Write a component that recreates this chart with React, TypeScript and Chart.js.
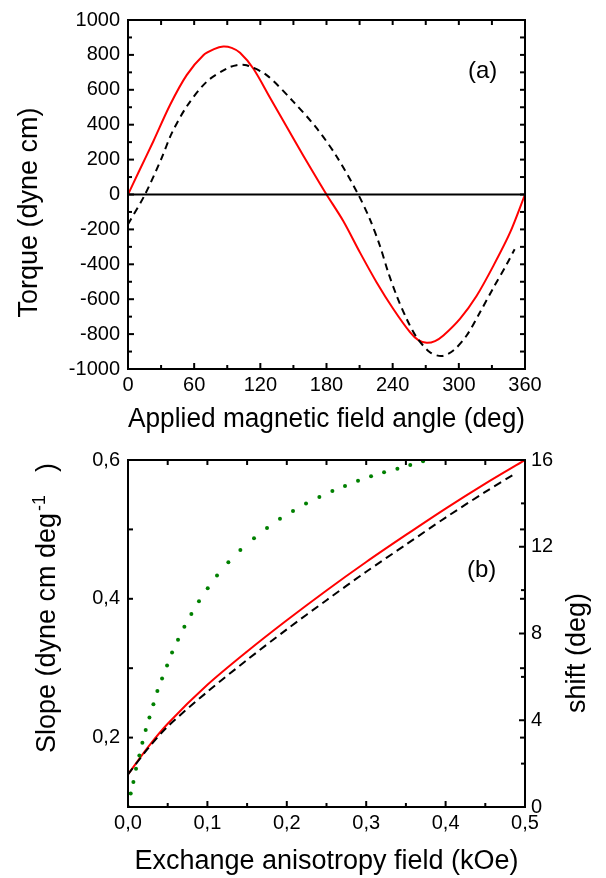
import React, { useEffect, useRef } from "react";
import { Chart, registerables } from "chart.js";

Chart.register(...registerables);
Chart.defaults.font.family = "'Liberation Sans', Arial, sans-serif";
Chart.defaults.color = "#000";

// ---------- Panel (a) data ----------
const redAngle = [0, 10, 22.9, 38.1, 53.2, 68.3, 78, 86.4, 94, 101.6, 113.6, 128.8, 143.9, 159, 174.1, 180, 195.2, 210.4, 225.5, 240.6, 255.7, 263.3, 270.9, 278.4, 286, 301, 316.2, 331.3, 346.4, 360];
const redTorque = [0, 133, 304, 513, 684, 798, 833, 848, 840, 812, 722, 555, 388, 222, 62, 0, -152, -333, -504, -656, -789, -835, -850, -840, -808, -713, -580, -409, -219, 0];
const dashAngle = [0, 15.4, 30.5, 39.6, 53.2, 71.3, 89.5, 98.5, 107.6, 125.7, 149.9, 171.1, 189.2, 208.8, 219.4, 228.5, 236, 243.6, 252.7, 261.7, 273.8, 284.4, 295, 307.1, 319.2, 331.3, 343.4, 350.6];
const dashTorque = [-170, 0, 209, 350, 504, 646, 722, 741, 741, 684, 532, 380, 218, 0, -143, -295, -447, -580, -713, -818, -904, -926, -894, -808, -675, -535, -400, -314];
const zeroAngle = [0, 360];
const zeroTorque = [0, 0];
const xTicksA = [0, 60, 120, 180, 240, 300, 360];
const xMinorA = [30, 90, 150, 210, 270, 330];
const yTicksA = [-1000, -800, -600, -400, -200, 0, 200, 400, 600, 800, 1000];
const yMinorA = [-900, -700, -500, -300, -100, 100, 300, 500, 700, 900];

// ---------- Panel (b) data ----------
const fieldRed = [0, 0.025, 0.05, 0.1, 0.15, 0.2, 0.25, 0.3, 0.35, 0.4, 0.45, 0.5];
const slopeRed = [0.147, 0.186, 0.22, 0.276, 0.324, 0.369, 0.412, 0.453, 0.492, 0.53, 0.566, 0.6];
const fieldDash = [0, 0.025, 0.05, 0.1, 0.15, 0.2, 0.25, 0.3, 0.35, 0.4, 0.45, 0.487];
const slopeDash = [0.147, 0.184, 0.216, 0.266, 0.312, 0.356, 0.398, 0.439, 0.478, 0.517, 0.554, 0.58];
const fieldShift = [0, 0.0034, 0.0068, 0.0101, 0.0143, 0.0181, 0.0223, 0.027, 0.032, 0.037, 0.0429, 0.0492, 0.0555, 0.063, 0.071, 0.0798, 0.0894, 0.1004, 0.1121, 0.1264, 0.1415, 0.1587, 0.1751, 0.1914, 0.2078, 0.2242, 0.241, 0.2574, 0.2733, 0.2897, 0.3061, 0.3225, 0.3393, 0.3555, 0.3716, 0.3876];
const shiftDeg = [0, 0.626, 1.157, 1.768, 2.377, 2.957, 3.55, 4.13, 4.74, 5.35, 5.93, 6.52, 7.12, 7.71, 8.31, 8.9, 9.49, 10.09, 10.68, 11.28, 11.85, 12.39, 12.86, 13.29, 13.65, 13.99, 14.29, 14.57, 14.8, 15.04, 15.25, 15.44, 15.6, 15.77, 15.94, 16.05];
const xTicksB = [0, 0.1, 0.2, 0.3, 0.4, 0.5];
const xMinorB = [0.05, 0.15, 0.25, 0.35, 0.45];
const yTicksB = [0.2, 0.4, 0.6];
const yMinorB = [0.1, 0.3, 0.5];
const shiftTicks = [0, 4, 8, 12, 16];
const shiftMinor = [2, 6, 10, 14];

const FONT = "'Liberation Sans', Arial, sans-serif";
const TICK_SIZE = 20;
const zip = (xs: number[], ys: number[]) => xs.map((x, i) => ({ x, y: ys[i] }));
const comma = (v: number) => v.toFixed(1).replace(".", ",");

type TickSet = { scale: string; edge: "top" | "bottom" | "left" | "right"; values: number[]; len: number };
type VText = { x: number; y: number; parts: { t: string; size: number; dx: number; dy: number }[]; align: CanvasTextAlign };
type HText = { x: number; y: number; t: string; size: number };

function framePlugin(ticks: TickSet[], vtexts: VText[], htexts: HText[]) {
  return {
    id: "frameTicks",
    afterDatasetsDraw(chart: any) {
      const { ctx, chartArea: a } = chart;
      ctx.save();
      ctx.strokeStyle = "#000";
      ctx.lineWidth = 2;
      ctx.strokeRect(a.left, a.top, a.right - a.left, a.bottom - a.top);
      for (const t of ticks) {
        const s = chart.scales[t.scale];
        for (const v of t.values) {
          const p = s.getPixelForValue(v);
          ctx.beginPath();
          if (t.edge === "bottom") { ctx.moveTo(p, a.bottom); ctx.lineTo(p, a.bottom - t.len); }
          if (t.edge === "top") { ctx.moveTo(p, a.top); ctx.lineTo(p, a.top + t.len); }
          if (t.edge === "left") { ctx.moveTo(a.left, p); ctx.lineTo(a.left + t.len, p); }
          if (t.edge === "right") { ctx.moveTo(a.right, p); ctx.lineTo(a.right - t.len, p); }
          ctx.stroke();
        }
      }
      ctx.fillStyle = "#000";
      ctx.textBaseline = "alphabetic";
      for (const vt of vtexts) {
        ctx.save();
        ctx.translate(vt.x, vt.y);
        ctx.rotate(-Math.PI / 2);
        for (const p of vt.parts) {
          ctx.font = `${p.size}px ${FONT}`;
          ctx.textAlign = vt.align;
          ctx.fillText(p.t, p.dx, p.dy);
        }
        ctx.restore();
      }
      for (const h of htexts) {
        ctx.font = `${h.size}px ${FONT}`;
        ctx.textAlign = "left";
        ctx.fillText(h.t, h.x, h.y);
      }
      ctx.restore();
    },
  };
}

const setTicks = (vals: number[]) => (scale: any) => {
  scale.ticks = vals.map((v) => ({ value: v }));
};

const noGrid = { display: false, drawTicks: false };

export default function App() {
  const refA = useRef<HTMLCanvasElement>(null);
  const refB = useRef<HTMLCanvasElement>(null);

  useEffect(() => {
    const chartA = new Chart(refA.current!, {
      type: "line",
      data: {
        datasets: [
          { data: zip(zeroAngle, zeroTorque), borderColor: "#000", borderWidth: 2, pointRadius: 0 },
          { data: zip(dashAngle, dashTorque), borderColor: "#000", borderWidth: 2, borderDash: [7, 5], pointRadius: 0, tension: 0.3 },
          { data: zip(redAngle, redTorque), borderColor: "#ff0000", borderWidth: 2, pointRadius: 0, tension: 0.3 },
        ],
      },
      options: {
        responsive: false,
        animation: false,
        devicePixelRatio: 1,
        layout: { padding: { top: 18, right: 81, left: 0, bottom: 0 } },
        plugins: { legend: { display: false }, tooltip: { enabled: false } },
        scales: {
          x: {
            type: "linear", min: 0, max: 360,
            afterBuildTicks: setTicks(xTicksA),
            afterFit: (s: any) => { s.height = 71; },
            grid: noGrid, border: { display: false },
            ticks: { font: { size: TICK_SIZE }, color: "#000", padding: 4, maxRotation: 0, callback: (v: any) => String(v) },
            title: { display: true, text: "Applied magnetic field angle (deg)", font: { size: 27 }, color: "#000", padding: { top: 0, bottom: 4 } },
          },
          y: {
            type: "linear", min: -1000, max: 1000,
            afterBuildTicks: setTicks(yTicksA),
            afterFit: (s: any) => { s.width = 128; },
            grid: noGrid, border: { display: false },
            ticks: { font: { size: TICK_SIZE }, color: "#000", padding: 8, callback: (v: any) => String(v) },
          },
        },
      } as any,
      plugins: [
        framePlugin(
          [
            { scale: "x", edge: "bottom", values: xTicksA, len: 6 },
            { scale: "x", edge: "bottom", values: xMinorA, len: 4 },
            { scale: "x", edge: "top", values: xTicksA, len: 5 },
            { scale: "x", edge: "top", values: xMinorA, len: 5 },
            { scale: "y", edge: "left", values: yTicksA, len: 6 },
            { scale: "y", edge: "left", values: yMinorA, len: 4 },
            { scale: "y", edge: "right", values: yTicksA, len: 5 },
            { scale: "y", edge: "right", values: yMinorA, len: 5 },
          ],
          [{ x: 36.5, y: 212.5, align: "center", parts: [{ t: "Torque (dyne cm)", size: 27, dx: 0, dy: 0 }] }],
          [{ x: 468, y: 78, t: "(a)", size: 24 }]
        ),
      ],
    });

    const chartB = new Chart(refB.current!, {
      type: "line",
      data: {
        datasets: [
          { data: zip(fieldShift, shiftDeg), yAxisID: "y2", showLine: false, pointRadius: 2, pointBorderWidth: 0, pointBackgroundColor: "#008000", borderColor: "#008000" },
          { data: zip(fieldDash, slopeDash), yAxisID: "y", borderColor: "#000", borderWidth: 2, borderDash: [8, 5], pointRadius: 0, tension: 0.3 },
          { data: zip(fieldRed, slopeRed), yAxisID: "y", borderColor: "#ff0000", borderWidth: 2, pointRadius: 0, tension: 0.3 },
        ],
      },
      options: {
        responsive: false,
        animation: false,
        devicePixelRatio: 1,
        layout: { padding: { top: 17, right: 0, left: 0, bottom: 0 } },
        plugins: { legend: { display: false }, tooltip: { enabled: false } },
        scales: {
          x: {
            type: "linear", min: 0, max: 0.5,
            afterBuildTicks: setTicks(xTicksB),
            afterFit: (s: any) => { s.height = 71; },
            grid: noGrid, border: { display: false },
            ticks: { font: { size: TICK_SIZE }, color: "#000", padding: 4, maxRotation: 0, callback: (v: any) => comma(Number(v)) },
            title: { display: true, text: "Exchange anisotropy field (kOe)", font: { size: 27 }, color: "#000", padding: { top: 0, bottom: 0 } },
          },
          y: {
            type: "linear", position: "left", min: 0.1, max: 0.6,
            afterBuildTicks: setTicks(yTicksB),
            afterFit: (s: any) => { s.width = 128; },
            grid: noGrid, border: { display: false },
            ticks: { font: { size: TICK_SIZE }, color: "#000", padding: 8, callback: (v: any) => comma(Number(v)) },
          },
          y2: {
            type: "linear", position: "right", min: 0, max: 16,
            afterBuildTicks: setTicks(shiftTicks),
            afterFit: (s: any) => { s.width = 81; },
            grid: noGrid, border: { display: false },
            ticks: { font: { size: TICK_SIZE }, color: "#000", padding: 6, callback: (v: any) => String(v) },
          },
        },
      } as any,
      plugins: [
        framePlugin(
          [
            { scale: "x", edge: "bottom", values: xTicksB, len: 6 },
            { scale: "x", edge: "bottom", values: xMinorB, len: 4 },
            { scale: "x", edge: "top", values: xTicksB, len: 5 },
            { scale: "x", edge: "top", values: xMinorB, len: 5 },
            { scale: "y", edge: "left", values: yTicksB, len: 5 },
            { scale: "y", edge: "left", values: yMinorB, len: 5 },
            { scale: "y", edge: "right", values: yTicksB, len: 5 },
            { scale: "y", edge: "right", values: yMinorB, len: 5 },
            { scale: "y2", edge: "right", values: shiftTicks, len: 6 },
            { scale: "y2", edge: "right", values: shiftMinor, len: 4 },
          ],
          [
            {
              x: 55, y: 313, align: "left",
              parts: [
                { t: "Slope (dyne cm deg", size: 27, dx: 0, dy: 0 },
                { t: "-1", size: 18, dx: 242, dy: -10 },
                { t: ")", size: 27, dx: 281, dy: 0 },
              ],
            },
            { x: 585, y: 213, align: "center", parts: [{ t: "shift (deg)", size: 27, dx: 0, dy: 0 }] },
          ],
          [{ x: 467, y: 137, t: "(b)", size: 24 }]
        ),
      ],
    });

    return () => {
      chartA.destroy();
      chartB.destroy();
    };
  }, []);

  return (
    <div style={{ position: "absolute", left: 0, top: 0, width: 606, height: 878, background: "#fff" }}>
      <canvas ref={refA} width={606} height={440} style={{ display: "block" }} />
      <canvas ref={refB} width={606} height={438} style={{ display: "block" }} />
    </div>
  );
}
